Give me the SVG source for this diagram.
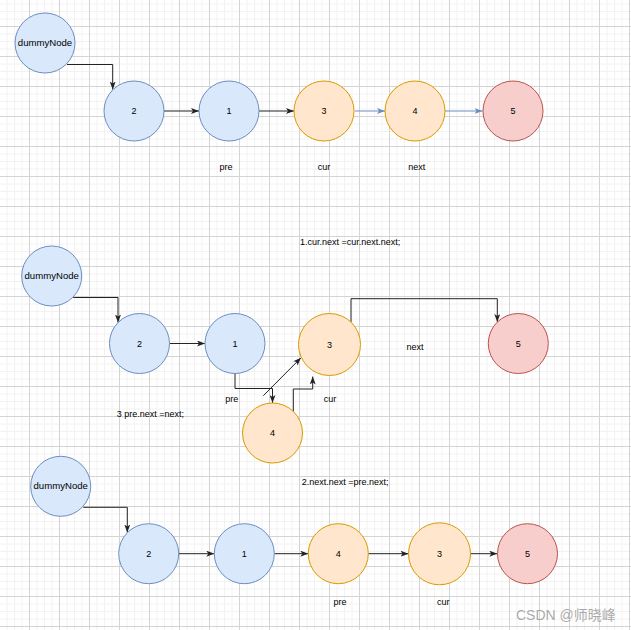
<svg xmlns="http://www.w3.org/2000/svg" width="631" height="630" viewBox="0 0 631 630">
<style>
text{font-family:"Liberation Sans",Arial,sans-serif;font-size:9px;fill:#000}
.c{text-anchor:middle}
.dn{font-size:9.6px}
.blue{fill:#dae8fc;stroke:#6c8ebf;stroke-width:1}
.orange{fill:#ffe6cc;stroke:#d79b00;stroke-width:1}
.red{fill:#f8cecc;stroke:#b85450;stroke-width:1}
.e{fill:none;stroke:#222;stroke-width:1;marker-end:url(#ah)}
.eb{fill:none;stroke:#6c8ebf;stroke-width:1;marker-end:url(#ahb)}
.wm{font-size:14px;fill:#9a9a9a;fill-opacity:0.85}
</style>
<defs>
<pattern id="grid" width="30" height="30" patternUnits="userSpaceOnUse">
<path d="M7 0V30M14.5 0V30M22 0V30M0 4H30M0 11.5H30M0 19H30" stroke="#f2f2f2" stroke-width="1" fill="none"/>
<path d="M29.5 0V30M0 26.5H30" stroke="#d4d4d4" stroke-width="1" fill="none"/>
</pattern>
<marker id="ah" viewBox="0 0 8 6" refX="8" refY="3" markerWidth="8" markerHeight="6" markerUnits="userSpaceOnUse" orient="auto">
<path d="M0,0 L8,3 L0,6 L2,3 Z" fill="#222"/>
</marker>
<marker id="ahb" viewBox="0 0 8 6" refX="8" refY="3" markerWidth="8" markerHeight="6" markerUnits="userSpaceOnUse" orient="auto">
<path d="M0,0 L8,3 L0,6 L2,3 Z" fill="#6c8ebf"/>
</marker>
</defs>
<rect width="631" height="630" fill="#fff"/>
<rect width="631" height="630" fill="url(#grid)"/>

<g id="connectors">
<path class="e" d="M67,64.5H112.7V89.5"/>
<path class="e" d="M164,111H199"/>
<path class="e" d="M259,111H294"/>
<path class="eb" d="M355,111H385"/>
<path class="eb" d="M445,111H482.5"/>

<path class="e" d="M73.3,297.5H118V322.5"/>
<path class="e" d="M169.5,343.5H205"/>
<path class="e" d="M235,373.5V388.5H272.5V403"/>
<path class="e" d="M263.3,395.7L301,357.8"/>
<path class="e" d="M293.3,411.7V389H312.7V376.5"/>
<path class="e" d="M351,322V298.7H497.3V322"/>

<path class="e" d="M83.3,507.3H127.3V532.5"/>
<path class="e" d="M178.7,553.7H214.3"/>
<path class="e" d="M274.3,553.7H308.3"/>
<path class="e" d="M368.3,553.7H408.5"/>
<path class="e" d="M470.5,553.7H497.3"/>
</g>

<g id="r1-dummy"><circle class="blue" cx="45" cy="43" r="30"/><text class="c dn" x="45" y="46">dummyNode</text></g>
<g id="r1-n2"><circle class="blue" cx="134" cy="111" r="30"/><text class="c" x="134" y="114">2</text></g>
<g id="r1-n1"><circle class="blue" cx="229" cy="111" r="30"/><text class="c" x="229" y="114">1</text></g>
<g id="r1-n3"><circle class="orange" cx="324" cy="111" r="30"/><text class="c" x="324" y="114">3</text></g>
<g id="r1-n4"><circle class="orange" cx="415" cy="111" r="30"/><text class="c" x="415" y="114">4</text></g>
<g id="r1-n5"><circle class="red" cx="513" cy="111" r="30"/><text class="c" x="513" y="114">5</text></g>
<g id="r1-labels">
<text class="c" x="226" y="170">pre</text>
<text class="c" x="324" y="170">cur</text>
<text class="c" x="416.7" y="170">next</text>
</g>

<g id="r2-dummy"><circle class="blue" cx="51.7" cy="276" r="30"/><text class="c dn" x="51.7" y="279">dummyNode</text></g>
<g id="r2-n2"><circle class="blue" cx="139.5" cy="343.5" r="30"/><text class="c" x="139.5" y="346.5">2</text></g>
<g id="r2-n1"><circle class="blue" cx="235" cy="343.5" r="30"/><text class="c" x="235" y="346.5">1</text></g>
<g id="r2-n3"><circle class="orange" cx="329.5" cy="344.5" r="31"/><text class="c" x="329.5" y="347.5">3</text></g>
<g id="r2-n5"><circle class="red" cx="518.3" cy="343.5" r="30"/><text class="c" x="518.3" y="346.5">5</text></g>
<g id="r2-n4"><circle class="orange" cx="272.5" cy="433" r="30"/><text class="c" x="272.5" y="436">4</text></g>
<g id="r2-labels">
<text x="300" y="245">1.cur.next =cur.next.next;</text>
<text class="c" x="231.7" y="402.3">pre</text>
<text class="c" x="330" y="402">cur</text>
<text class="c" x="415" y="350">next</text>
<text x="116.7" y="417">3 pre.next =next;</text>
</g>

<g id="r3-dummy"><circle class="blue" cx="60.7" cy="486.3" r="30"/><text class="c dn" x="60.7" y="489.3">dummyNode</text></g>
<g id="r3-n2"><circle class="blue" cx="148.7" cy="553.7" r="30"/><text class="c" x="148.7" y="556.7">2</text></g>
<g id="r3-n1"><circle class="blue" cx="244.3" cy="553.7" r="30"/><text class="c" x="244.3" y="556.7">1</text></g>
<g id="r3-n4"><circle class="orange" cx="338.3" cy="553.7" r="30"/><text class="c" x="338.3" y="556.7">4</text></g>
<g id="r3-n3"><circle class="orange" cx="439.5" cy="553.8" r="31"/><text class="c" x="439.5" y="556.8">3</text></g>
<g id="r3-n5"><circle class="red" cx="527.5" cy="553.7" r="30"/><text class="c" x="527.5" y="556.7">5</text></g>
<g id="r3-labels">
<text x="301.7" y="485">2.next.next =pre.next;</text>
<text class="c" x="340" y="605.3">pre</text>
<text class="c" x="443.3" y="605.3">cur</text>
</g>

<g id="watermark"><text class="wm" x="516" y="620" style="font-family:'Liberation Sans','Noto Sans CJK SC',sans-serif">CSDN @师晓峰</text></g>
</svg>
